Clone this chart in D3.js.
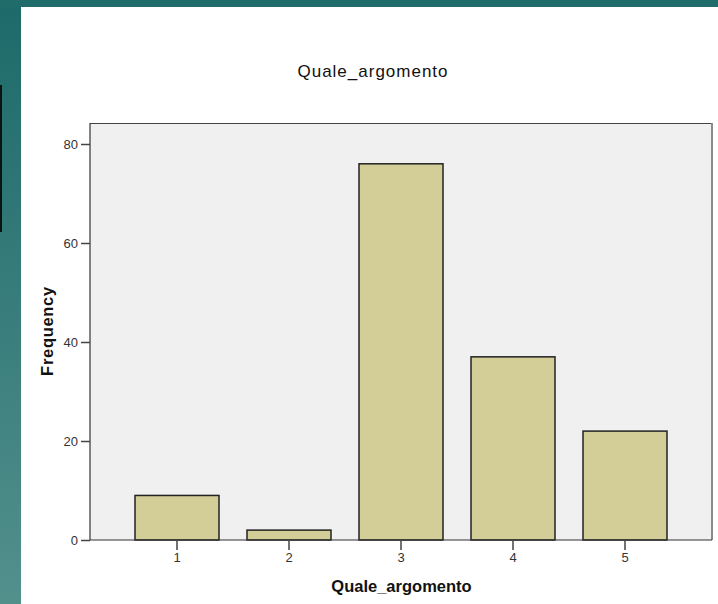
<!DOCTYPE html>
<html><head><meta charset="utf-8">
<script src="https://cdn.jsdelivr.net/npm/d3@7"></script>
<style>html,body{margin:0;padding:0;background:#fff;overflow:hidden}</style>
</head><body>
<script>
const categories = ["1","2","3","4","5"];
const frequencies = [9, 2, 76, 37, 22];
const yTicks = [0, 20, 40, 60, 80];
const chartTitle = "Quale_argomento";
const xTitle = "Quale_argomento";
const yTitle = "Frequency";

(function(){
const W = 718, H = 604;
const FONT = "Arial, 'Liberation Sans', sans-serif";
const svg = d3.select("body").append("svg").attr("width", W).attr("height", H);

const defs = svg.append("defs");
const g1 = defs.append("linearGradient").attr("id","teal").attr("x1",0).attr("y1",0).attr("x2",0).attr("y2",1);
g1.append("stop").attr("offset","0%").attr("stop-color","#1d6a6a");
g1.append("stop").attr("offset","100%").attr("stop-color","#52908c");

// background frame
svg.append("rect").attr("x",0).attr("y",0).attr("width",W).attr("height",H).attr("fill","url(#teal)");
svg.append("rect").attr("x",0).attr("y",0).attr("width",W).attr("height",7).attr("fill","#1f6c6b");
svg.append("rect").attr("x",21).attr("y",7).attr("width",W-21).attr("height",H-7).attr("fill","#ffffff");
svg.append("rect").attr("x",0).attr("y",85).attr("width",2).attr("height",147).attr("fill","#0a1414");

const pL = 90, pR = 712, pT = 123, pB = 540;
const x = d3.scaleBand().domain(categories).range([121, 681]).paddingInner(0.25).paddingOuter(0.125);
const y = d3.scaleLinear().domain([0, 80]).range([pB, 144]);

// plot area
svg.append("rect").attr("x",pL).attr("y",pT).attr("width",pR-pL).attr("height",pB-pT)
  .attr("fill","#f0f0f0").attr("stroke","none");
svg.append("line").attr("x1",pL).attr("x2",pR).attr("y1",pT+0.5).attr("y2",pT+0.5).attr("stroke","#444").attr("stroke-width",1);
svg.append("line").attr("x1",pR).attr("x2",pR).attr("y1",pT).attr("y2",pB).attr("stroke","#8a8a8a").attr("stroke-width",2);

// bars
svg.append("g").selectAll("rect").data(frequencies).join("rect")
  .attr("x",(d,i)=>x(categories[i]))
  .attr("y",d=>y(d))
  .attr("width",x.bandwidth())
  .attr("height",d=>pB-y(d))
  .attr("fill","#d3cd98")
  .attr("stroke","#222")
  .attr("stroke-width",1.5);

// axes
const yAxis = svg.append("g").attr("transform",`translate(${pL},0)`)
  .call(d3.axisLeft(y).tickValues(yTicks).tickSize(9).tickPadding(3).tickSizeOuter(0));
yAxis.select(".domain").attr("d",`M0,${pT}V${pB}`).attr("stroke","#333").attr("stroke-width",1.2);
yAxis.selectAll(".tick line").attr("stroke","#444").attr("stroke-width",1.5);
yAxis.selectAll(".tick text").attr("font-family",FONT).attr("font-size",13).attr("fill","#333");

const xAxis = svg.append("g").attr("transform",`translate(0,${pB})`)
  .call(d3.axisBottom(x).tickSize(10).tickPadding(3).tickSizeOuter(0));
xAxis.select(".domain").attr("d",`M${pL},0H${pR}`).attr("stroke","#333").attr("stroke-width",1.2);
xAxis.selectAll(".tick line").attr("stroke","#444").attr("stroke-width",1.5);
xAxis.selectAll(".tick text").attr("font-family",FONT).attr("font-size",13).attr("fill","#333");

// titles
svg.append("text").attr("x",373).attr("y",77).attr("text-anchor","middle")
  .attr("font-family",FONT).attr("font-size",17).attr("letter-spacing",1).attr("fill","#111").text(chartTitle);
svg.append("text").attr("x",401.5).attr("y",592).attr("text-anchor","middle")
  .attr("font-family",FONT).attr("font-size",16.5).attr("font-weight","bold").attr("fill","#111").text(xTitle);
svg.append("text").attr("transform","translate(53,331) rotate(-90)").attr("text-anchor","middle")
  .attr("font-family",FONT).attr("font-size",16.5).attr("letter-spacing",0.7).attr("font-weight","bold").attr("fill","#111").text(yTitle);
})();
</script>
</body></html>
